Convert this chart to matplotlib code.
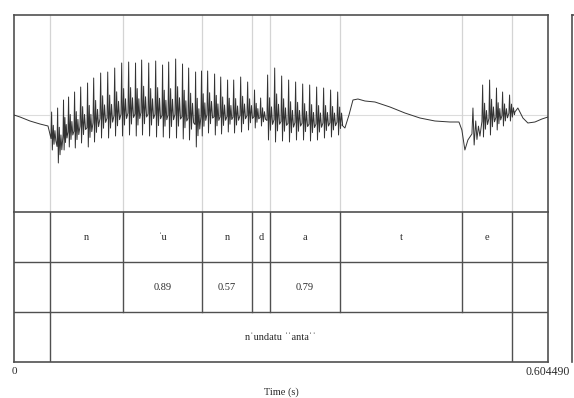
import matplotlib
matplotlib.use("Agg")
import matplotlib.pyplot as plt
import numpy as np

plt.rcParams['font.family'] = ['Liberation Serif', 'DejaVu Serif']

# ---------------- data ----------------
t_end = 0.6044898

# boundaries (s) shared by tiers 1 and 2
bounds = [0.0407, 0.1234, 0.2128, 0.2694, 0.2897, 0.3690, 0.5070, 0.5636]
tier1_labels = ["", "n", "ˈu", "n", "d", "a", "t", "e", ""]
tier2_labels = ["", "", "0.89", "0.57", "", "0.79", "", "", ""]
tier3_bounds = [0.0407, 0.5636]
tier3_labels = ["", "nˈundatu ˈˈantaˈˈ", ""]

# waveform: quiet/transition points (time s, amplitude)
lead_t = [0.0, 0.0068, 0.0181, 0.0294, 0.0385]
lead_a = [0.0, -0.02, -0.06, -0.09, -0.11]

# voiced stretch 1: glottal pulse times and their peak / trough amplitudes
v1_t = [0.0419, 0.0487, 0.0555, 0.0611, 0.0679, 0.0747, 0.0826, 0.0894, 0.0973,
        0.1053, 0.1132, 0.1211, 0.1290, 0.1369, 0.1437, 0.1517, 0.1596, 0.1675,
        0.1743, 0.1822, 0.1901, 0.1969, 0.2049, 0.2116, 0.2184, 0.2264, 0.2332,
        0.2411, 0.2479, 0.2558, 0.2637, 0.2716, 0.2784, 0.2863, 0.2943, 0.3022,
        0.3101, 0.3180, 0.3260, 0.3339, 0.3418, 0.3497, 0.3576, 0.3656]
v1_top = [0.03, 0.07, 0.15, 0.18, 0.23, 0.28, 0.32, 0.37, 0.42, 0.43, 0.47, 0.52,
          0.53, 0.52, 0.55, 0.52, 0.54, 0.50, 0.53, 0.56, 0.51, 0.47, 0.43, 0.44,
          0.44, 0.41, 0.38, 0.35, 0.35, 0.38, 0.33, 0.25, 0.17, 0.40, 0.47, 0.39,
          0.35, 0.33, 0.31, 0.30, 0.28, 0.27, 0.25, 0.23]
v1_bot = [-0.35, -0.48, -0.35, -0.32, -0.33, -0.28, -0.32, -0.27, -0.23, -0.23,
          -0.21, -0.21, -0.20, -0.21, -0.20, -0.21, -0.22, -0.22, -0.23, -0.23,
          -0.24, -0.25, -0.32, -0.21, -0.18, -0.20, -0.19, -0.17, -0.18, -0.17,
          -0.15, -0.13, -0.11, -0.25, -0.27, -0.26, -0.27, -0.25, -0.25, -0.26,
          -0.25, -0.23, -0.22, -0.20]

mid_t = [0.3712, 0.3746, 0.3792, 0.3837, 0.3893, 0.3973, 0.4086, 0.4256, 0.4425,
         0.4595, 0.4765, 0.4935, 0.5037, 0.5070, 0.5104, 0.5138]
mid_a = [-0.10, -0.13, 0.0, 0.15, 0.16, 0.14, 0.13, 0.08, 0.02, -0.03, -0.06,
         -0.07, -0.07, -0.15, -0.35, -0.25]

# voiced stretch 2
v2_t = [0.5184, 0.5297, 0.5376, 0.5455, 0.5523, 0.5602]
v2_top = [0.07, 0.30, 0.35, 0.27, 0.23, 0.20]
v2_bot = [-0.30, -0.22, -0.20, -0.15, -0.11, -0.06]

tail_t = [0.5670, 0.5704, 0.5761, 0.5817, 0.5897, 0.5976, 0.6044]
tail_a = [0.03, 0.07, -0.03, -0.08, -0.07, -0.04, -0.02]


def pulses(ts, tops, bots):
    xs, ys = [], []
    for i, (t, a, b) in enumerate(zip(ts, tops, bots)):
        P = (ts[i + 1] - t) if i + 1 < len(ts) else (t - ts[i - 1])
        m = b + 0.3 * (a - b)
        shape = [(0.0, m), (0.1, a), (0.22, b), (0.38, m + 0.5 * (a - m)),
                 (0.5, m - 0.5 * (m - b)), (0.65, m + 0.3 * (a - m)),
                 (0.8, m - 0.2 * (m - b))]
        for f, y in shape:
            xs.append(t + f * P)
            ys.append(y)
    return xs, ys


p1x, p1y = pulses(v1_t, v1_top, v1_bot)
p2x, p2y = pulses(v2_t, v2_top, v2_bot)
wx = lead_t + p1x + mid_t + p2x + tail_t
wy = lead_a + p1y + mid_a + p2y + tail_a

# ---------------- figure ----------------
W, H = 574, 398
fig = plt.figure(figsize=(W / 100, H / 100), dpi=100)

def fr(x0, y0, x1, y1):
    return [x0 / W, 1 - y1 / H, (x1 - x0) / W, (y1 - y0) / H]

frame_col = '#505050'
txt_col = '#2a2a2a'
ax_w = fig.add_axes(fr(14, 15, 548, 212))
ax_t = fig.add_axes(fr(14, 212, 548, 362), sharex=ax_w)

ax_w.set_xlim(0, t_end)
ax_w.set_ylim(-0.97, 1.0)
ax_w.axhline(0, color='#dcdcdc', lw=0.8, zorder=1)
for b in bounds:
    ax_w.axvline(b, color='#d4d4d4', lw=0.9, zorder=1)
ax_w.plot(wx, wy, color='#333333', lw=0.7, zorder=3)

ax_t.set_ylim(0, 3)
for y in (1, 2):
    ax_t.axhline(y, color=frame_col, lw=1.0)
edges = [0.0] + bounds + [t_end]
for b in bounds:
    ax_t.plot([b, b], [1, 3], color=frame_col, lw=1.0)
for i, lab in enumerate(tier1_labels):
    if lab:
        ax_t.text((edges[i] + edges[i + 1]) / 2, 2.5, lab, ha='center', va='center', fontsize=7.5, color=txt_col)
for i, lab in enumerate(tier2_labels):
    if lab:
        ax_t.text((edges[i] + edges[i + 1]) / 2, 1.5, lab, ha='center', va='center', fontsize=7.5, color=txt_col)
edges3 = [0.0] + tier3_bounds + [t_end]
for b in tier3_bounds:
    ax_t.plot([b, b], [0, 1], color=frame_col, lw=1.0)
for i, lab in enumerate(tier3_labels):
    if lab:
        ax_t.text((edges3[i] + edges3[i + 1]) / 2, 0.5, lab, ha='center', va='center', fontsize=7.5, color=txt_col)

for ax in (ax_w, ax_t):
    ax.set_xticks([])
    ax.set_yticks([])
    for s in ax.spines.values():
        s.set_color(frame_col)
        s.set_linewidth(1.2)
ax_w.spines['bottom'].set_visible(False)

ax_t.text(0, -0.2, "0", ha='center', va='center', fontsize=8, color=txt_col)
ax_t.text(t_end, -0.2, "0.604490", ha='center', va='center', fontsize=8.5, color=txt_col)
ax_t.text(t_end / 2, -0.6, "Time (s)", ha='center', va='center', fontsize=7.5, color=txt_col)

# partially visible neighbouring panel on the right
ax_r = fig.add_axes(fr(572, 15, 620, 362))
ax_r.set_xticks([]); ax_r.set_yticks([])
for k, s in ax_r.spines.items():
    s.set_color(frame_col); s.set_linewidth(1.2)
    if k in ('right', 'bottom'):
        s.set_visible(False)

fig.savefig("out.png", dpi=100)
